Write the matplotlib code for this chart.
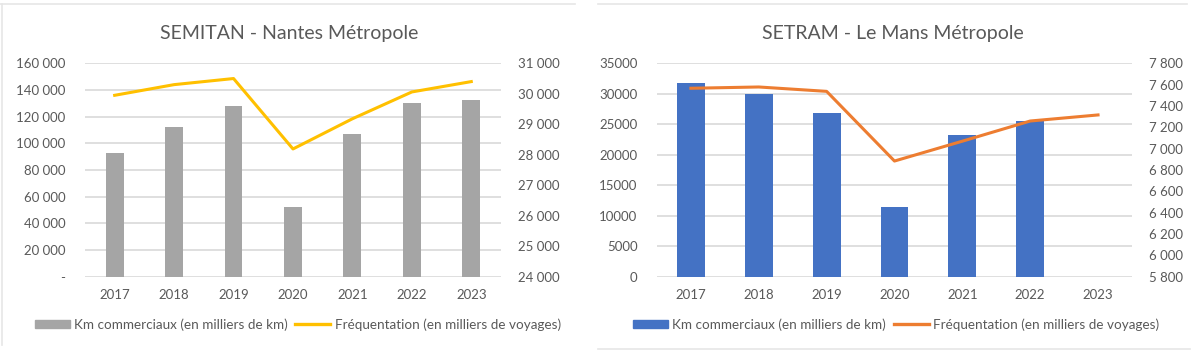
import numpy as np
import matplotlib
matplotlib.use('Agg')
import matplotlib.pyplot as plt
import matplotlib.ticker as ticker
from matplotlib.lines import Line2D

plt.rcParams['font.family'] = ['Lato', 'DejaVu Sans']

# data
years = ['2017', '2018', '2019', '2020', '2021', '2022', '2023']

nantes_km = [93000, 112000, 128000, 52500, 107000, 130000, 132500]
nantes_freq = [29950, 30300, 30500, 28190, 29180, 30060, 30400]

lemans_km = [31800, 29900, 26800, 11500, 23200, 25500, np.nan]
lemans_freq = [7566, 7578, 7537, 6884, 7070, 7259, 7316]

bar_label = 'Km commerciaux (en milliers de km)'
line_label = 'Fréquentation (en milliers de voyages)'

text_col = '#595959'
grid_col = '#D9D9D9'


def space_thousands(v, pos):
    return f'{int(round(v)):,}'.replace(',', ' ')


def dash_zero(v, pos):
    if abs(v) < 1e-9:
        return '-'
    return space_thousands(v, pos)


def draw_panel(rect, km, freq, bar_color, line_color, bar_w,
               ylim, ystep, y2lim, y2step, left_fmt, title, title_x, leg_x):
    x = np.arange(len(years))
    ax = fig.add_axes(rect)
    ax.bar(x, km, width=bar_w, color=bar_color, zorder=2)
    ax.set_xlim(-0.5, len(years) - 0.5)
    ax.set_ylim(*ylim)
    ax.set_yticks(np.arange(ylim[0], ylim[1] + 1, ystep))
    ax.yaxis.set_major_formatter(ticker.FuncFormatter(left_fmt))
    ax.set_xticks(x)
    ax.set_xticklabels(years)
    ax.grid(axis='y', color=grid_col, linewidth=1.2, zorder=0)
    ax.set_axisbelow(True)
    for s in ax.spines.values():
        s.set_visible(False)
    ax.tick_params(length=0, colors=text_col, labelsize=9.5)
    ax.tick_params(axis='x', pad=9)
    ax.tick_params(axis='y', pad=14)

    ax2 = ax.twinx()
    ax2.plot(x, freq, color=line_color, linewidth=2.2, zorder=3)
    ax2.set_ylim(*y2lim)
    ax2.set_yticks(np.arange(y2lim[0], y2lim[1] + 1, y2step))
    ax2.yaxis.set_major_formatter(ticker.FuncFormatter(space_thousands))
    for s in ax2.spines.values():
        s.set_visible(False)
    ax2.tick_params(length=0, colors=text_col, labelsize=9.5, pad=12)

    fig.text(title_x, 0.905, title, ha='center', va='center',
             fontsize=14, color=text_col)

    handles = [plt.Rectangle((0, 0), 1, 1, color=bar_color),
               Line2D([0], [0], color=line_color, linewidth=2.4)]
    fig.legend(handles, [bar_label, line_label], loc='center',
               bbox_to_anchor=(leg_x, 0.083), ncol=2, frameon=False,
               fontsize=9.7, labelcolor=text_col, handlelength=2.6,
               handletextpad=0.3, columnspacing=0.6, handleheight=0.6)


fig = plt.figure(figsize=(12, 3.54), dpi=100)

draw_panel([0.0708, 0.2184, 0.3467, 0.6028], nantes_km, nantes_freq,
           '#A5A5A5', '#FFC000', 0.3,
           (0, 160000), 20000, (24000, 31000), 1000, dash_zero,
           'SEMITAN - Nantes Métropole', 0.241, 0.248)

draw_panel([0.5475, 0.2184, 0.3958, 0.6028], lemans_km, lemans_freq,
           '#4472C4', '#ED7D31', 0.41,
           (0, 35000), 5000, (5800, 7800), 200, lambda v, p: f'{int(v)}',
           'SETRAM - Le Mans Métropole', 0.744, 0.747)

# faint frames around the two chart boxes
frame = '#E6E6E6'
fig.add_artist(Line2D([0.0, 0.479], [0.988, 0.988], color=frame, lw=1.2))
fig.add_artist(Line2D([0.002, 0.002], [0.025, 0.988], color=frame, lw=1.2))
fig.add_artist(Line2D([0.498, 0.989], [0.988, 0.988], color=frame, lw=1.2))
fig.add_artist(Line2D([0.498, 0.992], [0.014, 0.014], color=frame, lw=1.2))

fig.savefig('out.png', dpi=100, facecolor='white')
